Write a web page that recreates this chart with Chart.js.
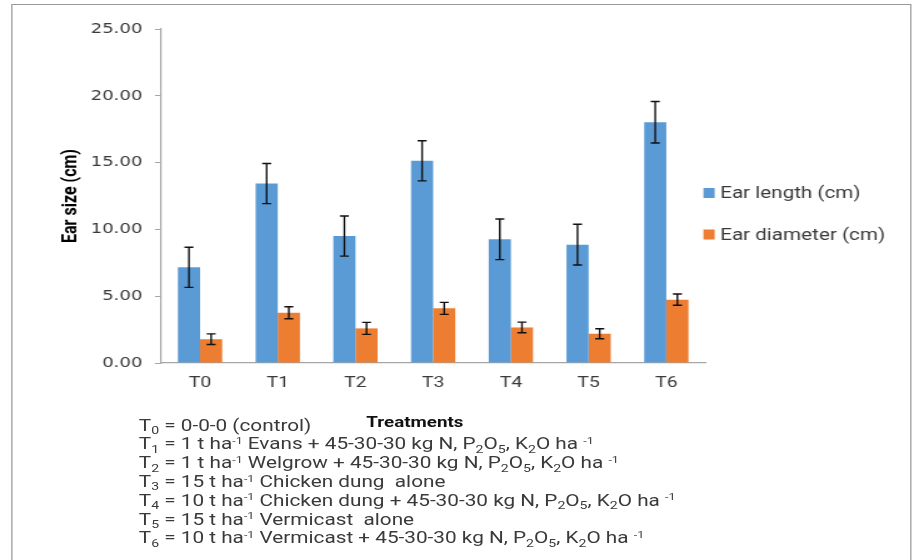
<!DOCTYPE html>
<html>
<head>
<meta charset="utf-8">
<script src="https://cdn.jsdelivr.net/npm/chart.js@4.4.1/dist/chart.umd.min.js"></script>
<style>
  html, body { margin: 0; padding: 0; background: #fff; overflow: hidden; }
  /* the reference picture is stretched sideways, so the whole figure is too */
  #wrap { position: relative; width: 731px; height: 560px; transform: scaleX(1.2503); transform-origin: 0 0; }
  #frame { position: absolute; left: 8.8px; top: 4px; width: 720px; height: 620px; border: 1px solid #9a9a9a; box-sizing: border-box; }
  #c { position: absolute; left: 0; top: 0; }
  #axisName { position: absolute; left: 293px; top: 413px; font: bold 15px Roboto, sans-serif; color: #111; }
  #notes { position: absolute; left: 111px; top: 416.6px; font: 16.6px Roboto, sans-serif; line-height: 18.8px; color: #3a3a3a; white-space: nowrap; }
  #notes sub { font-size: 0.68em; vertical-align: baseline; position: relative; top: 0.3em; line-height: 0; }
  #notes sup { font-size: 0.6em; vertical-align: baseline; position: relative; top: -0.55em; line-height: 0; }
</style>
</head>
<body>
<div id="wrap">
  <div id="frame"></div>
  <canvas id="c" width="731" height="412"></canvas>
  <div id="axisName">Treatments</div>
  <div id="notes">
    <div>T<sub>0</sub> = 0-0-0 (control)</div>
    <div>T<sub>1</sub> = 1 t ha<sup>-1</sup> Evans + 45-30-30 kg N, P<sub>2</sub>O<sub>5</sub>, K<sub>2</sub>O ha <sup>-1</sup></div>
    <div>T<sub>2</sub> = 1 t ha<sup>-1</sup> Welgrow + 45-30-30 kg N, P<sub>2</sub>O<sub>5</sub>, K<sub>2</sub>O ha <sup>-1</sup></div>
    <div>T<sub>3</sub> = 15 t ha<sup>-1</sup> Chicken dung&nbsp; alone</div>
    <div>T<sub>4</sub> = 10 t ha<sup>-1</sup> Chicken dung + 45-30-30 kg N, P<sub>2</sub>O<sub>5</sub>, K<sub>2</sub>O ha <sup>-1</sup></div>
    <div>T<sub>5</sub> = 15 t ha<sup>-1</sup> Vermicast&nbsp; alone</div>
    <div>T<sub>6</sub> = 10 t ha<sup>-1</sup> Vermicast + 45-30-30 kg N, P<sub>2</sub>O<sub>5</sub>, K<sub>2</sub>O ha <sup>-1</sup></div>
  </div>
</div>
<script>
const treatments = ["T0", "T1", "T2", "T3", "T4", "T5", "T6"];
const earLength = [7.16, 13.43, 9.50, 15.13, 9.26, 8.86, 18.02];
const earLengthErr = [1.50, 1.50, 1.50, 1.50, 1.52, 1.53, 1.55];
const earDiameter = [1.78, 3.76, 2.59, 4.09, 2.66, 2.19, 4.74];
const earDiameterErr = [0.40, 0.45, 0.45, 0.45, 0.40, 0.37, 0.42];
const yTickValues = [0, 5, 10, 15, 20, 25];
const yTickLabels = ["0.00", "5.00", "10.00", "15.00", "20.00", "25.00"];

// black whiskers with caps on every bar
const errorBars = {
    id: 'errorBars',
    afterDatasetsDraw(chart) {
        const ctx = chart.ctx;
        const y = chart.scales.y;
        ctx.save();
        ctx.strokeStyle = '#111';
        ctx.lineWidth = 1.4;
        chart.data.datasets.forEach((ds, i) => {
            chart.getDatasetMeta(i).data.forEach((bar, j) => {
                const top = y.getPixelForValue(ds.data[j] + ds.errors[j]);
                const bot = y.getPixelForValue(ds.data[j] - ds.errors[j]);
                ctx.beginPath();
                ctx.moveTo(bar.x, top); ctx.lineTo(bar.x, bot);
                ctx.moveTo(bar.x - 3.6, top); ctx.lineTo(bar.x + 3.6, top);
                ctx.moveTo(bar.x - 3.6, bot); ctx.lineTo(bar.x + 3.6, bot);
                ctx.stroke();
            });
        });
        ctx.restore();
    }
};

// legend sits just right of the plot, stacked
const sideLegend = {
    id: 'sideLegend',
    afterDraw(chart) {
        const { ctx, chartArea } = chart;
        const x = chartArea.right - 1.4;
        let y = (chartArea.top + chartArea.bottom) / 2 - 3;
        ctx.save();
        ctx.font = '16.5px Roboto';
        ctx.textBaseline = 'middle';
        chart.data.datasets.forEach(ds => {
            ctx.fillStyle = ds.backgroundColor;
            ctx.fillRect(x, y - 5, 9, 10);
            ctx.fillStyle = '#3a3a3a';
            ctx.fillText(ds.label, x + 13.4, y + 1);
            y += 41.5;
        });
        ctx.restore();
    }
};

new Chart(document.getElementById('c'), {
    type: 'bar',
    data: {
        labels: treatments,
        datasets: [{
            label: 'Ear length (cm)',
            data: earLength,
            errors: earLengthErr,
            backgroundColor: '#5b9bd5'
        }, {
            label: 'Ear diameter (cm)',
            data: earDiameter,
            errors: earDiameterErr,
            backgroundColor: '#ed7d31'
        }]
    },
    options: {
        responsive: false,
        animation: false,
        categoryPercentage: 0.57,
        barPercentage: 1.0,
        layout: { padding: { left: 20, right: 167, top: 29, bottom: 9.4 } },
        plugins: { legend: { display: false }, tooltip: { enabled: false } },
        scales: {
            x: {
                grid: { display: false, drawTicks: false },
                border: { display: true, color: '#a6a6a6', width: 1.2 },
                ticks: { padding: 10.5, color: '#3a3a3a', font: { family: 'Roboto', size: 15.5 } }
            },
            y: {
                min: 0,
                max: 25,
                afterBuildTicks: (axis) => { axis.ticks = yTickValues.map(v => ({ value: v })); },
                grid: { drawOnChartArea: false, drawTicks: true, tickLength: 5, color: '#a6a6a6' },
                border: { display: true, color: '#a6a6a6', width: 1.2 },
                ticks: {
                    padding: 10,
                    color: '#3a3a3a',
                    font: { family: "'DejaVu Sans'", size: 14.5 },
                    callback: (v) => yTickLabels[yTickValues.indexOf(v)]
                },
                title: {
                    display: true,
                    text: 'Ear size (cm)',
                    color: '#000',
                    font: { family: 'Roboto', weight: 'bold', size: 16 },
                    padding: { top: 27.2, bottom: -4.0 }
                }
            }
        }
    },
    plugins: [errorBars, sideLegend]
});
</script>
</body>
</html>
